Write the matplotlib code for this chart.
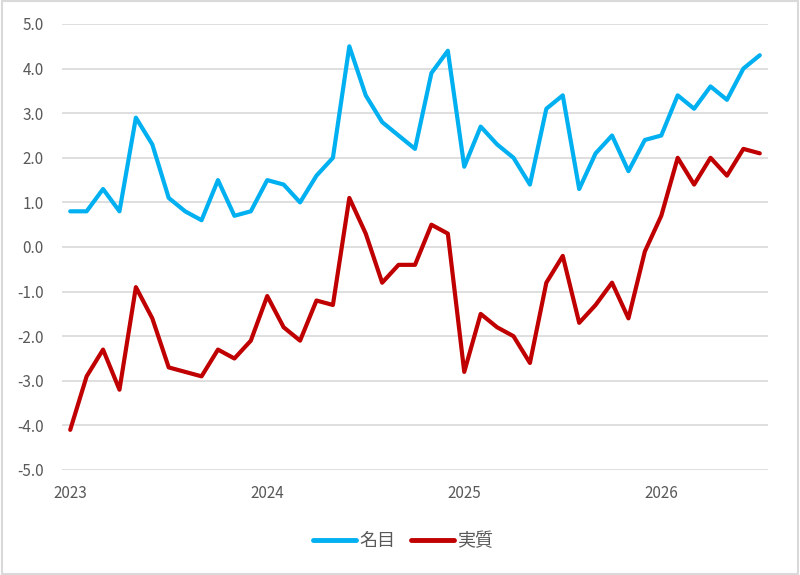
import numpy as np
import matplotlib.pyplot as plt
from matplotlib.patches import Rectangle

plt.rcParams['font.family'] = ['Noto Sans CJK JP', 'DejaVu Sans']

# 月次データ 2023年1月〜2026年7月
nominal = [0.8, 0.8, 1.3, 0.8, 2.9, 2.3, 1.1, 0.8, 0.6, 1.5, 0.7, 0.8,
           1.5, 1.4, 1.0, 1.6, 2.0, 4.5, 3.4, 2.8, 2.5, 2.2, 3.9, 4.4,
           1.8, 2.7, 2.3, 2.0, 1.4, 3.1, 3.4, 1.3, 2.1, 2.5, 1.7, 2.4,
           2.5, 3.4, 3.1, 3.6, 3.3, 4.0, 4.3]
real = [-4.1, -2.9, -2.3, -3.2, -0.9, -1.6, -2.7, -2.8, -2.9, -2.3, -2.5, -2.1,
        -1.1, -1.8, -2.1, -1.2, -1.3, 1.1, 0.3, -0.8, -0.4, -0.4, 0.5, 0.3,
        -2.8, -1.5, -1.8, -2.0, -2.6, -0.8, -0.2, -1.7, -1.3, -0.8, -1.6, -0.1,
        0.7, 2.0, 1.4, 2.0, 1.6, 2.2, 2.1]
year_labels = ['2023', '2024', '2025', '2026']

x = np.arange(len(nominal))

fig = plt.figure(figsize=(8, 5.75), dpi=100)
ax = fig.add_axes([62/800, 105/575, 706/800, 446/575])

ax.plot(x, nominal, color='#00B0F0', lw=3, label='名目', solid_joinstyle='round', solid_capstyle='round')
ax.plot(x, real, color='#C00000', lw=3, label='実質', solid_joinstyle='round', solid_capstyle='round')

ax.set_xlim(-0.5, len(x) - 0.5)
ax.set_ylim(-5, 5)
ax.set_yticks(np.arange(-5, 5.1, 1))
ax.set_yticklabels([f'{v:.1f}' for v in np.arange(-5, 5.1, 1)])
ax.set_xticks(np.arange(0, len(x), 12))
ax.set_xticklabels(year_labels)

ax.grid(axis='y', color='#D9D9D9', lw=1.2)
ax.set_axisbelow(True)
for s in ax.spines.values():
    s.set_visible(False)
ax.tick_params(axis='both', length=0, labelsize=11, labelcolor='#595959')
ax.tick_params(axis='y', pad=13)
ax.tick_params(axis='x', pad=11)

# 凡例は図全体の中央下
leg = fig.legend(loc='center', bbox_to_anchor=(403/800, 1 - 541/575), ncol=2, frameon=False,
                 fontsize=13, labelcolor='#595959', handlelength=2.4, handletextpad=0.15,
                 columnspacing=0.9)
for h in leg.get_lines():
    h.set_linewidth(3.5)
    h.set_solid_capstyle('round')

fig.patches.append(Rectangle((0.002, 0.002), 0.996, 0.996, transform=fig.transFigure,
                             fill=False, edgecolor='#D9D9D9', lw=1.5))

fig.savefig('out.png', dpi=100)
